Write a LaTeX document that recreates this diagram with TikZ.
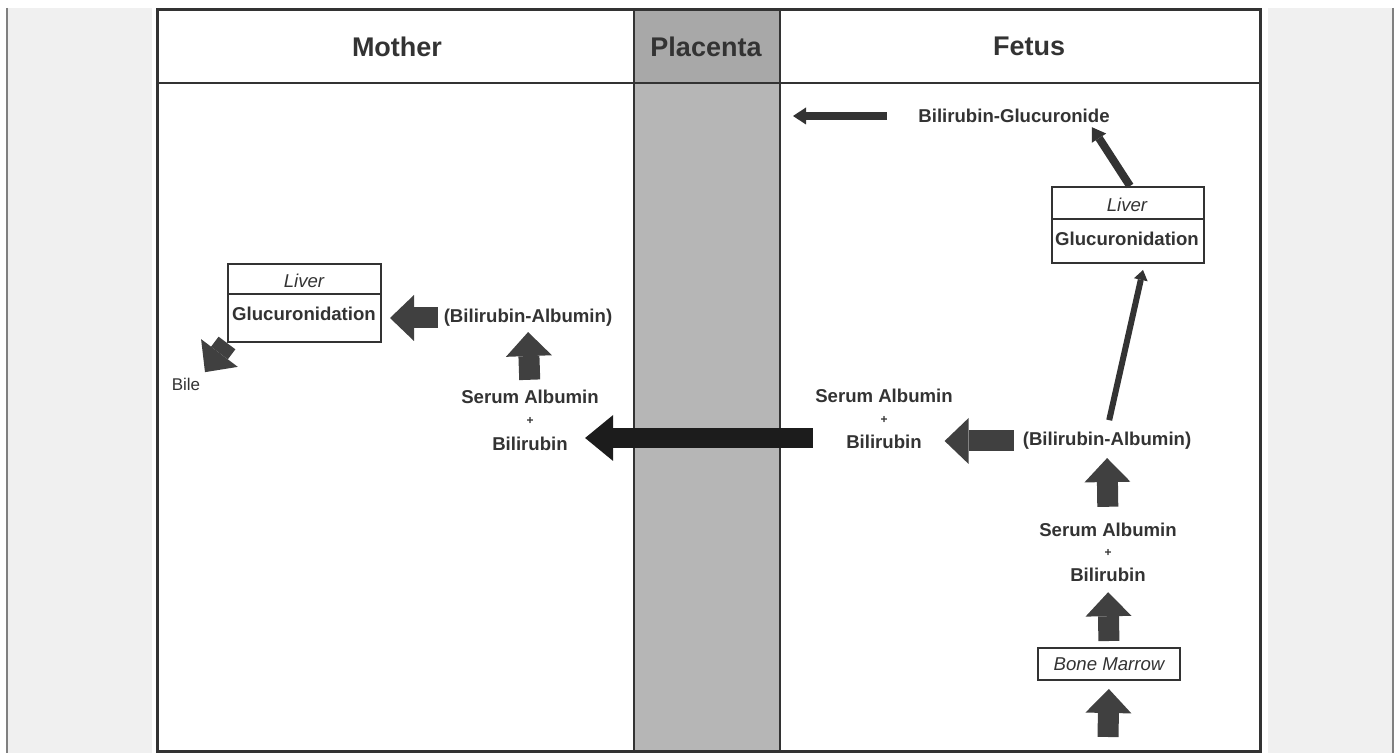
\documentclass[tikz,border=0pt]{standalone}
\usepackage{fontspec}
\setmainfont{Liberation Sans}
\usetikzlibrary{arrows.meta,positioning}
\definecolor{ink}{HTML}{333333}
\definecolor{arrgray}{HTML}{404040}
\definecolor{arrblack}{HTML}{1C1C1C}
\definecolor{panel}{HTML}{F0F0F0}
\definecolor{placbody}{HTML}{B6B6B6}
\definecolor{plachead}{HTML}{A8A8A8}
\tikzset{
  lbl/.style={text=ink, font=\fontsize{9.3}{11}\selectfont\bfseries, inner sep=1pt},
  plus/.style={text=ink, font=\fontsize{6}{7}\selectfont\bfseries, inner sep=1pt},
  ital/.style={text=ink, font=\fontsize{9.3}{11}\selectfont\itshape, inner sep=1pt},
  head/.style={text=ink, font=\fontsize{13.5}{16}\selectfont\bfseries},
  box/.style={draw=ink, line width=1pt, fill=white, inner sep=0pt},
  fat/.style={draw=arrgray, line width=10.5pt, -{Triangle[width=23pt,length=12pt,line width=0pt]}},
  bigfat/.style={draw=arrblack, line width=10pt, -{Triangle[width=23pt,length=14pt,line width=0pt]}},
  slim/.style={draw=ink, line width=4pt, -{Triangle[width=8.5pt,length=6.5pt,line width=0pt]}},
  hair/.style={draw=ink, line width=3pt, -{Triangle[width=7pt,length=5pt,line width=0pt]}},
}
\begin{document}
\begin{tikzpicture}[x=0.5pt, y=-0.5pt]
\useasboundingbox (0,0) rectangle (1399,753);
% side panels
\fill[panel] (7,8) rectangle (152,753);
\fill[panel] (1268,8) rectangle (1393,753);
\draw[gray, line width=1pt] (7,8) -- (7,753) (1393,8) -- (1393,753);
% placenta strip and frame
\fill[placbody] (634,83) rectangle (780,751);
\fill[plachead] (634,10) rectangle (780,83);
\draw[ink, line width=1.5pt] (157,10) rectangle (1260,751);
\draw[ink, line width=1pt] (157,83) -- (1260,83);
\draw[ink, line width=1.2pt] (634,10) -- (634,751) (780,10) -- (780,751);
\node[head] (hmother) at (397,47) {Mother};
\node[head] (hplac) at (706,47) {Placenta};
\node[head] (hfetus) at (1029,46) {Fetus};

% mother
\node[box, minimum width=76.5pt, minimum height=39pt] (mliver) at (304.5,303) {};
\draw[ink, line width=1pt] ([yshift=-15.5pt]mliver.north west) -- ([yshift=-15.5pt]mliver.north east);
\node[ital] (mlivtxt) at (304,281) {Liver};
\node[lbl] (mgluc) at (304,314) {Glucuronidation};
\node[lbl] (mba) at (528,318) {(Bilirubin-Albumin)};
\node[lbl] (msa) at (530,397) {Serum Albumin};
\node[plus] (mplus) at (530,421) {+};
\node[lbl] (mbil) at (530,444) {Bilirubin};
\node[text=ink, font=\fontsize{8.5}{10}\selectfont, inner sep=1pt] (mbile) at (186,384) {Bile};
\draw[fat, shorten <=1.75pt, shorten >=4pt] (mba.west) -- (mba.west -| mliver.east);
\draw[fat, shorten <=4pt, shorten >=1.5pt] (msa.north) -- (mba.south);
\draw[fat, shorten >=2pt] (mliver.south west) -- (mbile.north east);

% fetus
\node[lbl] (fbg) at (1014,116) {Bilirubin-Glucuronide};
\coordinate (fout) at (793,116);
\node[box, minimum width=76pt, minimum height=38pt] (fliver) at (1128,225) {};
\draw[ink, line width=1pt] ([yshift=-16.5pt]fliver.north west) -- ([yshift=-16.5pt]fliver.north east);
\node[ital] (flivtxt) at (1127,205) {Liver};
\node[lbl] (fgluc) at (1127,239) {Glucuronidation};
\node[lbl] (fba) at (1107,441) {(Bilirubin-Albumin)};
\node[lbl] (fsa) at (884,396) {Serum Albumin};
\node[plus] (fplus) at (884,420) {+};
\node[lbl] (fbil) at (884,442) {Bilirubin};
\node[lbl] (fsa2) at (1108,530) {Serum Albumin};
\node[plus] (fplus2) at (1108,553) {+};
\node[lbl] (fbil2) at (1108,575) {Bilirubin};
\node[box, minimum width=71pt, minimum height=16pt, font=\fontsize{9.3}{11}\selectfont\itshape, text=ink] (fbm) at (1109,664) {Bone Marrow};
\coordinate (fin) at (1108,737);

\draw[slim, shorten <=14.5pt] (fbg.west) -- (fout);
\draw[slim] ([xshift=1pt]fliver.north) -- ([xshift=-10pt,yshift=-1pt]fbg.south east);
\draw[hair, shorten <=5pt] (fba.north) -- ([xshift=7.5pt,yshift=-3pt]fliver.south);
\draw[fat, shorten <=3.25pt, shorten >=10.25pt] (fba.west) -- (fba.west -| fbil.east);
\draw[fat, shorten <=7pt, shorten >=3pt] (fsa2.north) -- (fba.south);
\draw[fat, shorten <=3pt, shorten >=4pt] (fbm.north) -- (fbil2.south);
\draw[fat, shorten >=4pt] (fin) -- (fbm.south);

% across the placenta
\draw[bigfat, shorten >=7.5pt] ([yshift=2pt]fsa.west |- fbil.west) -- ([yshift=2pt]mbil.east |- fbil.west);
\end{tikzpicture}
\end{document}
